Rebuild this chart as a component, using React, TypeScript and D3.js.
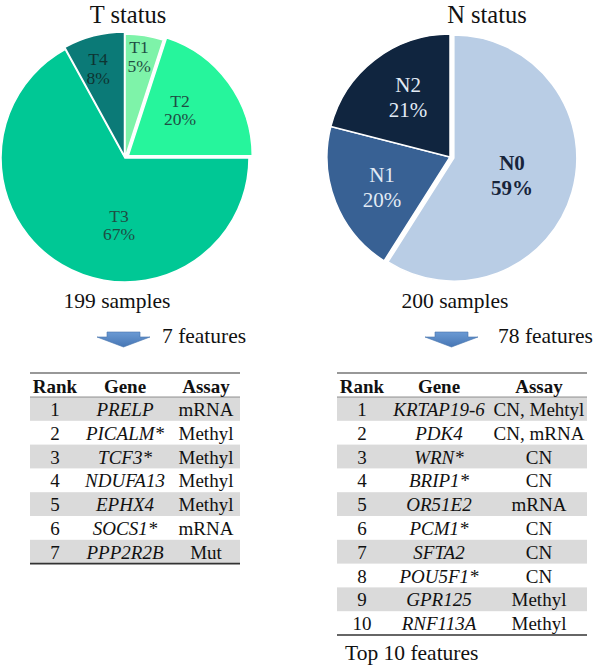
import React from "react";
import * as d3 from "d3";

const tLabels = ["T1", "T2", "T3", "T4"];
const tValues = [5, 20, 67, 8];
const tColors = ["#7ef3a9", "#26f59c", "#00c895", "#0b7a77"];
const tExplode = [0, 4, 0, 2];

const nLabels = ["N0", "N1", "N2"];
const nValues = [59, 20, 21];
const nColors = ["#b9cde5", "#386194", "#10253f"];
const nExplode = [4, 0, 0];

const tRank = ["1", "2", "3", "4", "5", "6", "7"];
const tGenes = ["PRELP", "PICALM*", "TCF3*", "NDUFA13", "EPHX4", "SOCS1*", "PPP2R2B"];
const tAssay = ["mRNA", "Methyl", "Methyl", "Methyl", "Methyl", "mRNA", "Mut"];

const nRank = ["1", "2", "3", "4", "5", "6", "7", "8", "9", "10"];
const nGenes = ["KRTAP19-6", "PDK4", "WRN*", "BRIP1*", "OR51E2", "PCM1*", "SFTA2", "POU5F1*", "GPR125", "RNF113A"];
const nAssay = ["CN, Mehtyl", "CN, mRNA", "CN", "CN", "mRNA", "CN", "CN", "CN", "Methyl", "Methyl"];

const FONT = "'Liberation Serif', 'Times New Roman', Times, serif";

type PieProps = {
  cx: number; cy: number; r: number;
  labels: string[]; values: number[]; colors: string[]; explode: number[];
  labelColors: string[]; bold: boolean[];
  labelPos: [number, number][]; // [angle in degrees clockwise from 12 o'clock, radius]
  fontSize: number; lineGap: number;
};

function Pie({ cx, cy, r, labels, values, colors, explode, labelColors, bold, labelPos, fontSize, lineGap }: PieProps) {
  const pie = d3.pie<number>().sort(null).value((d) => d);
  const arcs = pie(values);
  const arc = d3.arc<d3.PieArcDatum<number>>().innerRadius(0).outerRadius(r);
  const total = d3.sum(values);
  return (
    <g transform={`translate(${cx},${cy})`}>
      {arcs.map((a, i) => {
        const mid = (a.startAngle + a.endAngle) / 2;
        const dx = Math.sin(mid) * explode[i];
        const dy = -Math.cos(mid) * explode[i];
        return (
          <path key={"p" + i} d={arc(a) || ""} fill={colors[i]} stroke="#fff" strokeWidth={1.5}
            transform={`translate(${dx},${dy})`} />
        );
      })}
      {arcs.map((a, i) => {
        const ang = (labelPos[i][0] * Math.PI) / 180;
        const lr = labelPos[i][1];
        const lx = Math.sin(ang) * lr;
        const ly = -Math.cos(ang) * lr;
        const pct = Math.round((values[i] / total) * 100);
        return (
          <g key={"l" + i} fontFamily={FONT} fontSize={fontSize} fill={labelColors[i]}
            fontWeight={bold[i] ? "bold" : "normal"} textAnchor="middle">
            <text x={lx} y={ly - lineGap / 2 + fontSize * 0.35}>{labels[i]}</text>
            <text x={lx} y={ly + lineGap / 2 + fontSize * 0.35}>{pct}%</text>
          </g>
        );
      })}
    </g>
  );
}

type TableProps = {
  x0: number; x1: number; top: number; cols: number[];
  rank: string[]; genes: string[]; assay: string[];
};

function Table({ x0, x1, top, cols, rank, genes, assay }: TableProps) {
  const headerH = 24;
  const rowH = 23.8;
  const y = d3.scaleLinear().domain([0, rank.length]).range([top + headerH, top + headerH + rowH * rank.length]);
  return (
    <g fontFamily={FONT} fontSize={19} fill="#111">
      <line x1={x0} x2={x1} y1={top} y2={top} stroke="#333" strokeWidth={1.2} />
      {rank.map((_, i) =>
        i % 2 === 0 ? <rect key={"b" + i} x={x0} y={y(i)} width={x1 - x0} height={rowH} fill="#dadada" /> : null
      )}
      <line x1={x0} x2={x1} y1={top + headerH} y2={top + headerH} stroke="#777" strokeWidth={0.8} />
      <text x={cols[0]} y={top + 20} textAnchor="middle" fontWeight="bold">Rank</text>
      <text x={cols[1]} y={top + 20} textAnchor="middle" fontWeight="bold">Gene</text>
      <text x={cols[2]} y={top + 20} textAnchor="middle" fontWeight="bold">Assay</text>
      {rank.map((r, i) => (
        <g key={i}>
          <text x={cols[0]} y={y(i) + 19} textAnchor="middle">{r}</text>
          <text x={cols[1]} y={y(i) + 19} textAnchor="middle" fontStyle="italic">{genes[i]}</text>
          <text x={cols[2]} y={y(i) + 19} textAnchor="middle">{assay[i]}</text>
        </g>
      ))}
      <line x1={x0} x2={x1} y1={y(rank.length)} y2={y(rank.length)} stroke="#333" strokeWidth={1.6} />
    </g>
  );
}

function Arrow({ x, y }: { x: number; y: number }) {
  const d = `M${x + 10},${y} L${x + 43},${y} L${x + 43},${y + 5} L${x + 53},${y + 5} L${x + 26.5},${y + 15} L${x},${y + 5} L${x + 10},${y + 5} Z`;
  return <path d={d} fill="url(#arrowGrad)" stroke="#4673ad" strokeWidth={0.6} />;
}

export default function App() {
  return (
    <svg width={600} height={665} style={{ display: "block", position: "absolute", left: 0, top: 0 }}>
      <defs>
        <linearGradient id="arrowGrad" x1="0" y1="0" x2="0" y2="1">
          <stop offset="0" stopColor="#6b9ad4" />
          <stop offset="1" stopColor="#4676b4" />
        </linearGradient>
      </defs>
      <rect width={600} height={665} fill="#fff" />
      <text x={128} y={23} textAnchor="middle" fontFamily={FONT} fontSize={24.5} fill="#111">T status</text>
      <text x={487} y={23} textAnchor="middle" fontFamily={FONT} fontSize={24.5} fill="#111">N status</text>

      <Pie cx={125} cy={158} r={124} labels={tLabels} values={tValues} colors={tColors} explode={tExplode}
        labelColors={["#1f4d43", "#1f4d43", "#1f4d43", "#0e3432"]} bold={[false, false, false, false]}
        labelPos={[[7.9, 102.5], [48.8, 73], [185.1, 67.2], [343.3, 93.8]]} fontSize={17.5} lineGap={18.5} />
      <Pie cx={450} cy={157} r={123} labels={nLabels} values={nValues} colors={nColors} explode={nExplode}
        labelColors={["#17243a", "#e2ebf5", "#e2ebf5"]} bold={[true, false, false]}
        labelPos={[[106.4, 64.6], [246.3, 74.3], [325.1, 73.3]]} fontSize={21} lineGap={25} />

      <text x={117} y={308} textAnchor="middle" fontFamily={FONT} fontSize={21.5} fill="#111">199 samples</text>
      <text x={455} y={308} textAnchor="middle" fontFamily={FONT} fontSize={21.5} fill="#111">200 samples</text>

      <Arrow x={97} y={332} />
      <text x={162} y={343} fontFamily={FONT} fontSize={21.5} fill="#111">7 features</text>
      <Arrow x={425} y={332} />
      <text x={498} y={343} fontFamily={FONT} fontSize={21.5} fill="#111">78 features</text>

      <Table x0={30} x1={240} top={373} cols={[55, 125, 206]} rank={tRank} genes={tGenes} assay={tAssay} />
      <Table x0={337} x1={587} top={373} cols={[362, 439, 539]} rank={nRank} genes={nGenes} assay={nAssay} />

      <text x={345} y={660} fontFamily={FONT} fontSize={21.5} fill="#111">Top 10 features</text>
    </svg>
  );
}
